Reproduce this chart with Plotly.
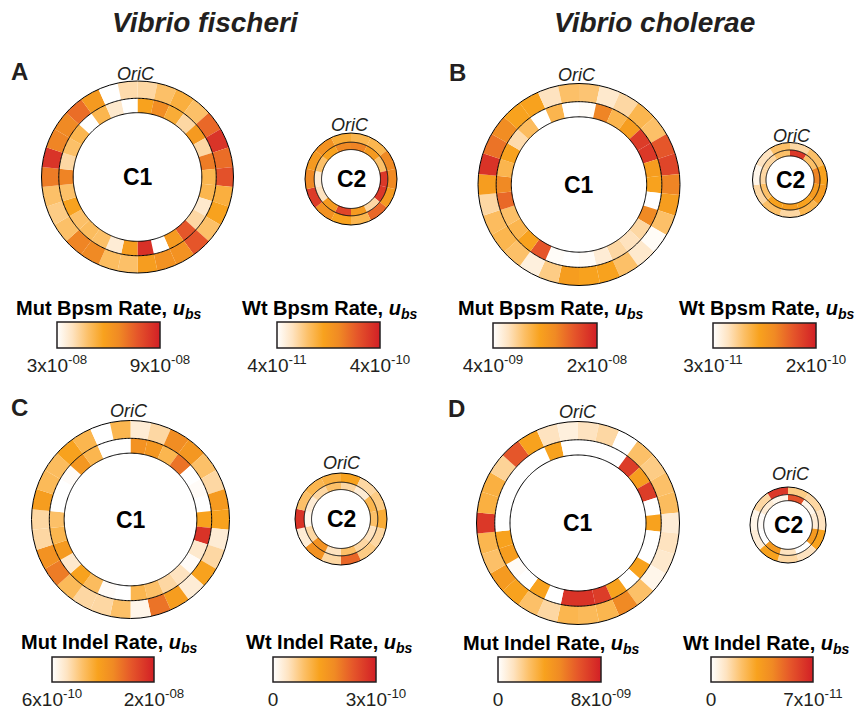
import numpy as np
import plotly.graph_objects as go

W, H = 858, 710

# ---------------- DATA (per-window rates, u_bs; windows run clockwise from OriC) ----------------
# Vibrio fischeri, base-pair substitutions
vf_bpsm_mut_c1 = np.array([4.2, 4.8, 5.3, 4.8, 7.3, 8.5, 7.2, 7.8, 5.3, 5.7, 4.8, 7.7, 6.3, 6.3, 5.9,
                           4.8, 4.9, 6.6, 6.7, 4.8, 4.5, 4.8, 6.9, 8.5, 6.7, 6.6, 7.2, 6.0, 3.0, 4.1]) * 1e-8
vf_bpsm_wt_c1 = np.array([20.2, 24.9, 18.4, 11.2, 22.0, 11.2, 27.4, 16.6, 16.6, 8.3, 11.2, 32.1, 22.0, 4.0, 37.5,
                          21.3, 7.6, 14.8, 15.5, 14.8, 20.2, 14.8, 26.3, 11.2, 14.8, 16.6, 4.0, 16.6, 8.3, 4.0]) * 1e-11
vf_bpsm_mut_c2 = np.array([5.1, 5.1, 6.6, 6.6, 6.0, 7.3, 5.1, 5.7, 6.3, 8.3, 6.6, 6.0, 6.3, 5.4]) * 1e-8
vf_bpsm_wt_c2 = np.array([26.3, 22.0, 14.8, 36.4, 36.4, 11.2, 22.0, 34.6, 22.0, 9.4, 7.6, 14.8, 20.2, 25.6]) * 1e-11

# Vibrio cholerae, base-pair substitutions
vc_bpsm_mut_c1 = np.array([8.5, 5.9, 7.2, 9.6, 8.8, 16.5, 17.6, 13.9, 11.7, 8.8, 4.3, 5.9, 8.8, 11.2, 11.2,
                           11.7, 8.0, 5.3, 8.8, 9.6, 9.1, 7.2, 11.7, 18.7, 14.9, 13.3, 11.2, 11.2, 6.4, 8.8]) * 1e-9
vc_bpsm_wt_c1 = np.array([3.3, 13.5, 9.0, 11.2, 18.0, 18.3, 11.2, 10.7, 3.0, 13.2, 6.4, 5.6, 6.4, 4.7, 3.3,
                          3.0, 3.3, 16.3, 10.7, 9.0, 8.1, 15.2, 13.2, 9.0, 10.7, 6.1, 8.4, 3.0, 9.0, 3.0]) * 1e-11
vc_bpsm_mut_c2 = np.array([7.2, 8.8, 11.2, 12.0, 9.6, 7.2, 8.8, 7.2, 4.8, 6.4, 8.8]) * 1e-9
vc_bpsm_wt_c2 = np.array([18.3, 8.1, 13.5, 11.5, 10.7, 11.2, 10.7, 8.1, 6.4, 6.4, 8.1]) * 1e-11

# Vibrio fischeri, indels
vf_indel_mut_c1 = np.array([25.4, 44.8, 118.5, 106.9, 64.2, 44.8, 103.0, 93.3, 25.4, 44.8, 93.3, 25.4, 99.1, 137.9, 15.7,
                            64.2, 44.8, 44.8, 70.0, 132.1, 112.7, 44.8, 44.8, 99.1, 70.0, 68.1, 93.3, 73.9, 6.0, 73.9]) * 1e-10
vf_indel_wt_c1 = np.array([16.5, 15.6, 10.5, 20.4, 0.0, 0.6, 0.0, 13.5, 27.6, 3.6, 0.6, 4.5, 6.0, 9.0, 10.5,
                           0.0, 0.6, 9.6, 13.5, 3.6, 15.0, 10.5, 9.0, 0.0, 0.0, 0.6, 15.6, 10.5, 0.0, 0.0]) * 1e-11
vf_indel_mut_c2 = np.array([93.3, 44.8, 54.5, 83.6, 44.8, 54.5, 145.7, 44.8, 112.7, 25.4, 184.5, 64.2, 73.9, 79.7]) * 1e-10
vf_indel_wt_c2 = np.array([6.0, 3.0, 10.5, 9.0, 4.5, 6.0, 9.0, 4.5, 16.5, 6.0, 1.5, 3.0, 6.0, 9.0]) * 1e-11

# Vibrio cholerae, indels
vc_indel_mut_c1 = np.array([1.2, 1.6, 0.0, 2.4, 2.0, 2.4, 2.56, 0.8, 1.2, 0.96, 0.4, 2.4, 4.8, 2.8, 2.64,
                            2.8, 1.6, 2.4, 3.6, 4.0, 2.4, 2.8, 7.2, 3.04, 3.04, 1.76, 6.24, 3.6, 1.2, 0.64]) * 1e-9
vc_indel_wt_c1 = np.array([0, 0, 0, 61.6, 33.6, 61.6, 0, 31.5, 0, 0, 31.5, 0, 31.5, 61.6, 64.4,
                           64.4, 0, 31.5, 0, 1.4, 33.6, 31.5, 0, 0, 0, 0, 0, 0, 31.5, 0]) * 1e-12
vc_indel_mut_c2 = np.array([2.0, 1.6, 1.2, 3.6, 1.2, 1.6, 3.6, 0.8, 0.4, 1.6, 7.2]) * 1e-9
vc_indel_wt_c2 = np.array([56.0, 3.5, 7.0, 35.0, 0.0, 10.5, 35.0, 0.0, 1.4, 7.0, 3.5]) * 1e-12

# colour-bar ranges and tick labels
cbar_titles = ["Mut Bpsm Rate", "Wt Bpsm Rate", "Mut Bpsm Rate", "Wt Bpsm Rate",
               "Mut Indel Rate", "Wt Indel Rate", "Mut Indel Rate", "Wt Indel Rate"]
cbar_ranges = [[3e-8, 9e-8], [4e-11, 4e-10], [4e-9, 2e-8], [3e-11, 2e-10],
               [6e-10, 2e-8], [0, 3e-10], [0, 8e-9], [0, 7e-11]]
cbar_ticktext = [["3x10<sup>-08</sup>", "9x10<sup>-08</sup>"], ["4x10<sup>-11</sup>", "4x10<sup>-10</sup>"],
                 ["4x10<sup>-09</sup>", "2x10<sup>-08</sup>"], ["3x10<sup>-11</sup>", "2x10<sup>-10</sup>"],
                 ["6x10<sup>-10</sup>", "2x10<sup>-08</sup>"], ["0", "3x10<sup>-10</sup>"],
                 ["0", "8x10<sup>-09</sup>"], ["0", "7x10<sup>-11</sup>"]]
species = ["Vibrio fischeri", "Vibrio cholerae"]
panel_letters = ["A", "B", "C", "D"]

# ---------------- STYLE / LAYOUT ----------------
FONT = "Arial, Liberation Sans, sans-serif"
TXT = "#231f20"
colorscale = [[0.0, "#ffffff"], [0.15, "#fee3c0"], [0.3, "#fcc068"], [0.45, "#f8a21e"],
              [0.6, "#f08a24"], [0.78, "#e5562a"], [1.0, "#d21f26"]]

def px(x):
    return x / W

def py(y):
    return 1 - y / H

C1_RAD = (1.0, 0.82, 0.67)
C2_RAD = (1.0, 0.80, 0.64)
circles = [
    # panel, label, cx, cy, R, mut data, wt data, oric (x, y)
    (0, "C1", 137.5, 177, 96, vf_bpsm_mut_c1, vf_bpsm_wt_c1, (136, 74)),
    (0, "C2", 351, 179, 46, vf_bpsm_mut_c2, vf_bpsm_wt_c2, (350, 125)),
    (1, "C1", 579, 184.5, 101, vc_bpsm_mut_c1, vc_bpsm_wt_c1, (577, 75)),
    (1, "C2", 790, 180, 37.5, vc_bpsm_mut_c2, vc_bpsm_wt_c2, (792, 136)),
    (2, "C1", 130.5, 519.5, 99, vf_indel_mut_c1, vf_indel_wt_c1, (129, 411)),
    (2, "C2", 341, 519, 46, vf_indel_mut_c2, vf_indel_wt_c2, (342, 463)),
    (3, "C1", 578, 523, 101.5, vc_indel_mut_c1, vc_indel_wt_c1, (578, 412)),
    (3, "C2", 788, 525, 38, vc_indel_mut_c2, vc_indel_wt_c2, (791, 474)),
]

# colour-bar boxes in pixels: (left, top, width, height), title centre (x, y)
cbar_boxes = [
    (57, 322, 103, 26, 108, 309), (277, 322, 103, 26, 329, 309),
    (493, 323, 104, 25, 550, 309), (713, 323, 103, 25, 766, 309),
    (52, 657, 102, 25, 109, 643), (273, 657, 103, 25, 329, 643),
    (498, 657, 103, 25, 551, 644), (711, 657, 102, 25, 766, 644),
]

fig = go.Figure()
layout = dict(width=W, height=H, margin=dict(l=0, r=0, t=0, b=0),
              paper_bgcolor="white", plot_bgcolor="white", showlegend=False,
              font=dict(family=FONT, color=TXT))
annotations = []

for k, (panel, lab, cx, cy, R, mut, wt, oric) in enumerate(circles):
    pid = "polar" if k == 0 else f"polar{k + 1}"
    rad = C1_RAD if lab == "C1" else C2_RAD
    mut_ax = "coloraxis" if panel == 0 else f"coloraxis{2 * panel + 1}"
    wt_ax = f"coloraxis{2 * panel + 2}"
    for vals, r_out, r_in, ax in [(mut, rad[0], rad[1], mut_ax), (wt, rad[1], rad[2], wt_ax)]:
        n = len(vals)
        theta = (np.arange(n) + 0.5) * 360.0 / n
        fig.add_trace(go.Barpolar(
            r=np.full(n, r_out - r_in), base=r_in, theta=theta, width=360.0 / n,
            marker=dict(color=vals, coloraxis=ax, line=dict(width=0)),
            subplot=pid, hoverinfo="skip"))
    ring = np.linspace(0, 360, 361)
    for rr in rad[1:]:
        fig.add_trace(go.Scatterpolar(r=np.full(ring.size, rr), theta=ring, mode="lines",
                                      line=dict(color="black", width=1), subplot=pid,
                                      hoverinfo="skip"))
    layout[pid] = dict(
        domain=dict(x=[px(cx - R), px(cx + R)], y=[py(cy + R), py(cy - R)]),
        bgcolor="rgba(0,0,0,0)",
        radialaxis=dict(visible=False, range=[0, 1]),
        angularaxis=dict(rotation=90, direction="clockwise", showgrid=False,
                         showticklabels=False, ticks="", showline=True,
                         linecolor="black", linewidth=1))
    annotations.append(dict(x=px(cx), y=py(cy), text=f"<b>{lab}</b>", showarrow=False,
                            xref="paper", yref="paper", xanchor="center", yanchor="middle",
                            font=dict(size=23, family=FONT, color="black")))
    annotations.append(dict(x=px(oric[0]), y=py(oric[1]), text="<i>OriC</i>", showarrow=False,
                            xref="paper", yref="paper", xanchor="center", yanchor="middle",
                            font=dict(size=18, family=FONT, color=TXT)))

for j in range(8):
    left, top, wd, ht, tx, ty = cbar_boxes[j]
    name = "coloraxis" if j == 0 else f"coloraxis{j + 1}"
    lo, hi = cbar_ranges[j]
    layout[name] = dict(
        colorscale=colorscale, cmin=lo, cmax=hi,
        colorbar=dict(orientation="h", lenmode="pixels", len=wd, thicknessmode="pixels",
                      thickness=ht, x=px(left), xanchor="left", y=py(top), yanchor="top",
                      xpad=0, ypad=0, outlinecolor="#231f20", outlinewidth=1.5,
                      tickmode="array", tickvals=[lo, hi], ticktext=cbar_ticktext[j],
                      ticks="", tickfont=dict(size=19, family=FONT, color=TXT)))
    annotations.append(dict(x=px(tx), y=py(ty), showarrow=False, xref="paper", yref="paper",
                            xanchor="center", yanchor="middle",
                            text=f"<b>{cbar_titles[j]}, <i>u<sub>bs</sub></i></b>",
                            font=dict(size=20, family=FONT, color="black")))

for i, (x, y) in enumerate([(19.5, 72), (457, 73), (19, 407), (456, 408)]):
    annotations.append(dict(x=px(x), y=py(y), text=f"<b>{panel_letters[i]}</b>", showarrow=False,
                            xref="paper", yref="paper", xanchor="center", yanchor="middle",
                            font=dict(size=24, family=FONT, color=TXT)))
for i, x in enumerate([205, 654]):
    annotations.append(dict(x=px(x), y=py(23), text=f"<b><i>{species[i]}</i></b>", showarrow=False,
                            xref="paper", yref="paper", xanchor="center", yanchor="middle",
                            font=dict(size=28, family=FONT, color=TXT)))

layout["annotations"] = annotations
fig.update_layout(**layout)
fig.write_html("out.html")
